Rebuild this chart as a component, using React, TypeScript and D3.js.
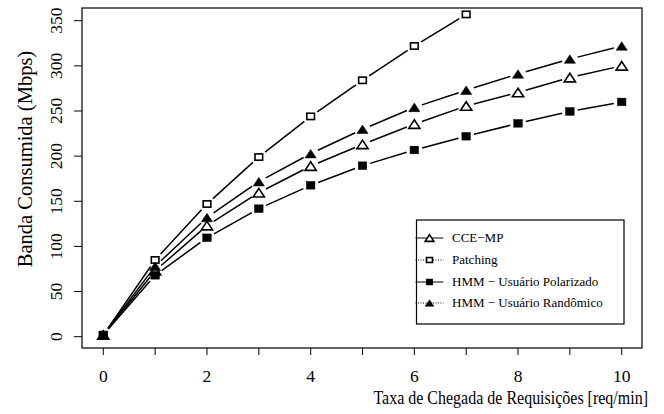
import React from "react";
import * as d3 from "d3";

const xValues = [0, 1, 2, 3, 4, 5, 6, 7, 8, 9, 10];
const cceMP = [2, 73, 123, 159.5, 189, 213, 235.5, 255.5, 270.5, 287, 300];
const patching = [2, 85, 147, 199, 244, 284, 322, 357];
const hmmPolarizado = [2, 68, 109.6, 141.8, 167.7, 189.4, 206.8, 222, 236.3, 249.5, 260];
const hmmRandomico = [2, 78, 132, 171.7, 202.7, 229.7, 254, 273, 291, 307.5, 322];
const yTicks = [0, 50, 100, 150, 200, 250, 300, 350];
const xTicks = [0, 1, 2, 3, 4, 5, 6, 7, 8, 9, 10];
const xLabels = [0, 2, 4, 6, 8, 10];

const seriesNames = ["CCE\u2212MP", "Patching", "HMM \u2212 Usuário Polarizado", "HMM \u2212 Usuário Randômico"];

type Sym = "openTri" | "openSq" | "fillSq" | "fillTri";

const series: { name: string; values: number[]; sym: Sym; legendDash: string | null }[] = [
  { name: seriesNames[0], values: cceMP, sym: "openTri", legendDash: null },
  { name: seriesNames[1], values: patching, sym: "openSq", legendDash: "1,1.5" },
  { name: seriesNames[2], values: hmmPolarizado, sym: "fillSq", legendDash: null },
  { name: seriesNames[3], values: hmmRandomico, sym: "fillTri", legendDash: "1,1.5" },
];

const FONT = "'Liberation Serif', 'Times New Roman', serif";

function Marker({ x, y, sym, s }: { x: number; y: number; sym: Sym; s: number }) {
  if (sym === "openSq" || sym === "fillSq") {
    const w = sym === "openSq" ? s * 0.85 : s * 0.95;
    const h = sym === "openSq" ? s * 0.7 : s * 0.85;
    return (
      <rect
        x={x - w / 2}
        y={y - h / 2}
        width={w}
        height={h}
        fill={sym === "fillSq" ? "#000" : "#fff"}
        stroke="#000"
        strokeWidth={sym === "openSq" ? 1.6 : 0.5}
      />
    );
  }
  const w = s * 1.25;
  const h = s * 0.95;
  const p = `M${x - w / 2},${y + h / 2} L${x + w / 2},${y + h / 2} L${x},${y - h / 2} Z`;
  return (
    <path
      d={p}
      fill={sym === "fillTri" ? "#000" : "#fff"}
      stroke="#000"
      strokeWidth={sym === "openTri" ? 1.6 : 0.5}
      strokeLinejoin="miter"
    />
  );
}

export default function App() {
  const width = 664;
  const height = 414;
  const left = 82;
  const right = 642;
  const top = 8;
  const bottom = 348;

  const x = d3.scaleLinear().domain([0, 10]).range([103.3, 621.7]);
  const y = d3.scaleLinear().domain([0, 350]).range([336.7, 20.7]);

  const gap = 8;

  const segs = (vals: number[]) => {
    const out: string[] = [];
    for (let i = 0; i < vals.length - 1; i++) {
      const x1 = x(xValues[i]);
      const y1 = y(vals[i]);
      const x2 = x(xValues[i + 1]);
      const y2 = y(vals[i + 1]);
      const dx = x2 - x1;
      const dy = y2 - y1;
      const L = Math.sqrt(dx * dx + dy * dy);
      if (L <= 2 * gap) continue;
      const ux = dx / L;
      const uy = dy / L;
      out.push(
        `M${x1 + ux * gap},${y1 + uy * gap}L${x2 - ux * gap},${y2 - uy * gap}`
      );
    }
    return out.join("");
  };

  const legX = 416.5;
  const legY = 220;
  const legW = 207.5;
  const legH = 104;
  const rowY = [236, 258, 280, 301];

  return (
    <svg width={width} height={height} style={{ position: "absolute", left: 0, top: 0, background: "#fff" }} fontFamily={FONT}>
      <rect x={0} y={0} width={width} height={height} fill="#fff" />
      {/* plot box */}
      <rect x={left} y={top} width={right - left} height={bottom - top} fill="none" stroke="#000" strokeWidth={1.2} />

      {/* x axis ticks */}
      {xTicks.map((t) => (
        <line key={"xt" + t} x1={x(t)} x2={x(t)} y1={bottom} y2={bottom + 7} stroke="#000" strokeWidth={1} />
      ))}
      {xLabels.map((t) => (
        <text key={"xl" + t} x={x(t)} y={382} fontSize={17.5} textAnchor="middle" fill="#000">
          {t}
        </text>
      ))}
      <text transform="translate(648,404) scale(1,1.2)" fontSize={16} textAnchor="end" fill="#000">
        Taxa de Chegada de Requisições [req/min]
      </text>

      {/* y axis ticks */}
      {yTicks.map((t) => (
        <line key={"yt" + t} x1={left - 8} x2={left} y1={y(t)} y2={y(t)} stroke="#000" strokeWidth={1} />
      ))}
      {yTicks.map((t) => (
        <text
          key={"yl" + t}
          transform={`translate(62,${y(t)}) rotate(-90)`}
          fontSize={17.5}
          textAnchor="middle"
          fill="#000"
        >
          {t}
        </text>
      ))}
      <text transform={`translate(32,159) rotate(-90)`} fontSize={20.5} textAnchor="middle" fill="#000">
        Banda Consumida (Mbps)
      </text>

      {/* series lines */}
      {series.map((s) => (
        <path key={"l" + s.name} d={segs(s.values)} fill="none" stroke="#000" strokeWidth={1.5} />
      ))}
      {/* markers */}
      {series.map((s) =>
        s.values.map((v, i) => (
          <Marker key={s.name + i} x={x(xValues[i])} y={y(v)} sym={s.sym} s={9} />
        ))
      )}

      {/* legend */}
      <rect x={legX} y={legY} width={legW} height={legH} fill="#fff" stroke="#000" strokeWidth={1.2} />
      {series.map((s, i) => (
        <g key={"lg" + s.name}>
          <line
            x1={legX - 1}
            x2={legX + 27}
            y1={rowY[i] + 2}
            y2={rowY[i] + 2}
            stroke="#000"
            strokeWidth={1}
            strokeDasharray={s.legendDash ?? undefined}
          />
          <Marker x={legX + 13} y={rowY[i] + 2} sym={s.sym} s={7} />
          <text x={legX + 35.5} y={rowY[i] + 6} fontSize={13} fill="#000">
            {s.name}
          </text>
        </g>
      ))}
    </svg>
  );
}
